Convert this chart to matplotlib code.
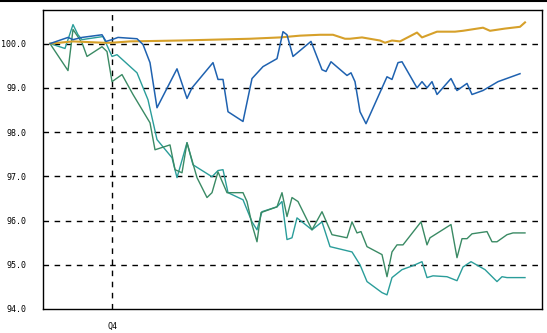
import matplotlib
matplotlib.use('Agg')
import matplotlib.pyplot as plt
from matplotlib.lines import Line2D

# index performance, rebased to 100 at the start of the window
blue_x = [0, 7.2, 9.2, 12.8, 20.8, 22.4, 24.8, 27.2, 34.8, 37.2, 40, 42.8, 50.8, 54.8, 56.8,
          65.2, 67.2, 69.2, 71.2, 77.2, 80.8, 85.2, 90.8, 93.2, 94.8, 97.2, 104.4, 108.8,
          110.4, 112.4, 118.8, 120.4, 122, 124, 126.4, 134.8, 136.8, 139.2, 140.8, 146.8,
          148.8, 150.8, 152.8, 154.8, 160.4, 162.8, 166.8, 168.8, 173.2, 179.2, 188]
blue_y = [100.00, 100.14, 100.09, 100.14, 100.20, 100.05, 100.09, 100.14, 100.11, 99.98,
          99.57, 98.55, 99.43, 98.76, 99.00, 99.57, 99.19, 99.19, 98.46, 98.24, 99.21,
          99.48, 99.66, 100.27, 100.20, 99.71, 100.05, 99.41, 99.37, 99.59, 99.28, 99.34,
          99.14, 98.46, 98.19, 99.25, 99.19, 99.57, 99.59, 99.00, 99.14, 99.00, 99.14,
          98.85, 99.21, 98.94, 99.10, 98.85, 98.94, 99.14, 99.32]

gold_x = [0, 9.2, 21.2, 24.8, 32, 52, 80, 92, 100, 108, 113.2, 118, 120, 124.8, 132, 134,
          136.8, 140, 146.8, 148.8, 154.8, 162, 165.2, 173.2, 176, 182, 188, 190]
gold_y = [100.00, 100.05, 100.02, 100.02, 100.05, 100.07, 100.11, 100.14, 100.18, 100.20,
          100.20, 100.11, 100.11, 100.14, 100.07, 100.02, 100.07, 100.05, 100.25, 100.14,
          100.27, 100.27, 100.29, 100.36, 100.29, 100.34, 100.38, 100.48]

green_x = [0, 7.2, 9.2, 12.8, 14.8, 20.8, 22.8, 24.8, 28.8, 33.2, 40, 42, 48, 50, 52.8,
           54.8, 58.8, 62.8, 64.8, 67.2, 70.8, 77.2, 78.8, 80.8, 82.8, 84.4, 90.8, 92.8,
           94.8, 96.8, 99.2, 104.8, 108.8, 112.8, 118.8, 120.8, 122.8, 124.4, 126.8, 132.8,
           134.8, 136.8, 138.8, 141.2, 148.4, 150.8, 152, 160.4, 162.8, 164.8, 166.8, 168.8,
           174.8, 176.8, 178.8, 182.8, 185.2, 190]
green_y = [100.00, 99.39, 100.32, 100.02, 99.71, 99.93, 99.82, 99.14, 99.30, 98.85, 98.21,
           97.60, 97.71, 97.15, 97.08, 97.76, 96.97, 96.52, 96.63, 97.10, 96.63, 96.63,
           96.43, 95.91, 95.52, 96.18, 96.31, 96.63, 96.09, 96.52, 96.43, 95.79, 96.20,
           95.68, 95.61, 95.97, 95.72, 95.75, 95.41, 95.23, 94.73, 95.29, 95.45, 95.45,
           95.97, 95.45, 95.61, 95.91, 95.16, 95.59, 95.59, 95.70, 95.75, 95.52, 95.52,
           95.68, 95.72, 95.72]

teal_x = [0, 6, 9.2, 11.2, 12.8, 21.2, 24.8, 26.8, 34.8, 39.2, 42.8, 48.8, 50.8, 54.8, 57.2,
          64.8, 67.2, 69.2, 71.2, 77.2, 80.8, 82.8, 84.8, 90.8, 92.8, 94.8, 96.8, 98.8,
          104.8, 108.8, 112, 120.8, 124, 126.8, 132.8, 134.8, 136.8, 140.8, 145.2, 148.8,
          150.8, 153.2, 158.8, 162.8, 165.2, 168.4, 174, 178.8, 180.8, 182.8, 190]
teal_y = [100.00, 99.89, 100.43, 100.20, 100.09, 100.16, 99.71, 99.75, 99.34, 98.73, 97.83,
          97.42, 96.97, 97.76, 97.26, 96.99, 97.13, 97.15, 96.63, 96.47, 95.97, 95.79,
          96.20, 96.31, 96.43, 95.57, 95.61, 96.06, 95.79, 95.97, 95.41, 95.29, 95.00,
          94.62, 94.37, 94.32, 94.71, 94.89, 94.98, 95.07, 94.71, 94.75, 94.73, 94.64,
          94.95, 95.07, 94.89, 94.62, 94.73, 94.71, 94.71]

yticks = [94, 95, 96, 97, 98, 99, 100]
ytick_labels = ['94.0', '95.0', '96.0', '97.0', '98.0', '99.0', '100.0']
q_x = [24.8]
q_labels = ['Q4']

fig = plt.figure(figsize=(5.47, 3.33), dpi=100)
ax = fig.add_axes([43 / 547, 24 / 333, 499 / 547, 299 / 333])

ax.plot(teal_x, teal_y, color='#2a9d9a', lw=1.0)
ax.plot(green_x, green_y, color='#3a8a64', lw=1.0)
ax.plot(gold_x, gold_y, color='#d6a02a', lw=1.5)
ax.plot(blue_x, blue_y, color='#1f62b0', lw=1.1)

ax.set_xlim(-2.8, 196.8)
ax.set_ylim(94, 100.76)

for yv in yticks[1:]:
    ax.axhline(yv, color='black', lw=1, ls=(0, (4, 4)), zorder=0)
for xv in q_x:
    ax.axvline(xv, color='black', lw=1, ls=(0, (4, 4)), zorder=0)

ax.set_yticks(yticks)
ax.set_yticklabels(ytick_labels)
ax.set_xticks(q_x)
ax.set_xticklabels(q_labels)
ax.tick_params(length=0, labelsize=6, pad=12)
ax.tick_params(axis='x', pad=9)
for lab in ax.get_xticklabels() + ax.get_yticklabels():
    lab.set_family('DejaVu Sans Mono')

for sp in ax.spines.values():
    sp.set_color('black')
    sp.set_linewidth(1)

# thin rule along the top edge of the image
fig.add_artist(Line2D([0, 1], [0.998, 0.998], transform=fig.transFigure, color='black', lw=1.5))

fig.savefig('out.png', dpi=100)
